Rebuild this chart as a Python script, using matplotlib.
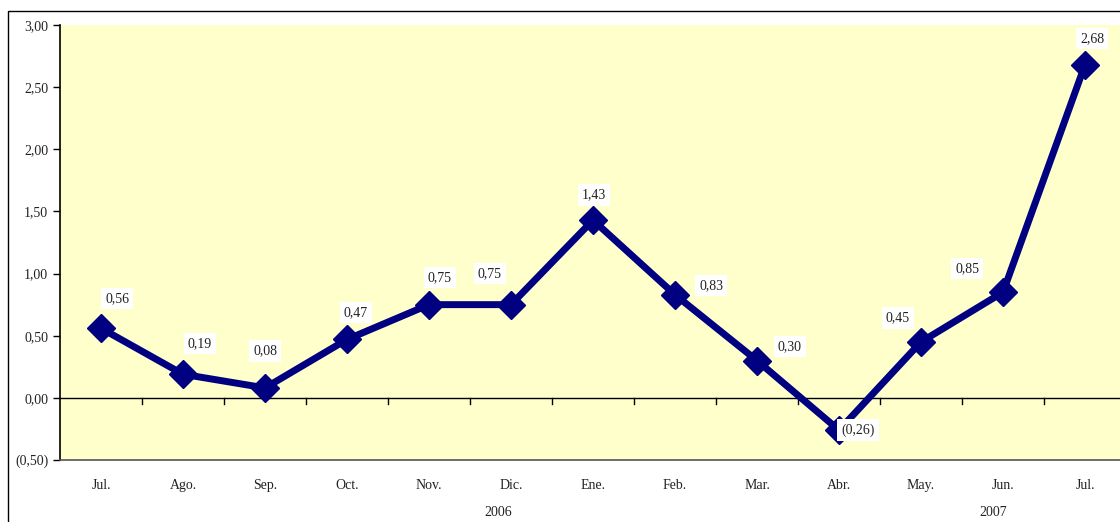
import numpy as np
import matplotlib
matplotlib.use("Agg")
import matplotlib.pyplot as plt
from matplotlib.patches import Rectangle
from matplotlib.transforms import ScaledTranslation

months = ["Jul.", "Ago.", "Sep.", "Oct.", "Nov.", "Dic.", "Ene.",
          "Feb.", "Mar.", "Abr.", "May.", "Jun.", "Jul."]
values = [0.56, 0.19, 0.08, 0.47, 0.75, 0.75, 1.43,
          0.83, 0.30, -0.26, 0.45, 0.85, 2.68]
years = ["2006", "2007"]
year_pos = [4.84, 10.88]

# label offsets in pixels (dx, dy) relative to each point
offsets = [(16, 30), (17, 31), (0, 37), (9, 27), (11, 27), (-21, 31), (1, 25),
           (36, 9), (33, 14), (19, 0), (-23, 24), (-36, 24), (7, 26)]


def fmt(v):
    s = "%.2f" % abs(v)
    s = s.replace(".", ",")
    return "(%s)" % s if v < 0 else s


plt.rcParams['font.family'] = ['Liberation Serif', 'DejaVu Serif']

fig = plt.figure(figsize=(11.2, 5.22), dpi=100)
fig.patch.set_facecolor("white")

# outer chart border
fig.add_artist(Rectangle((8 / 1120, -0.1), 1.2, 1 - 11 / 522 + 0.1,
                         transform=fig.transFigure, fill=False,
                         edgecolor="black", linewidth=1.0))

ax = fig.add_axes([60 / 1120, 1 - 460 / 522, 1066 / 1120, 435 / 522])
ax.set_facecolor("#FFFFCC")

x = np.arange(len(months))
ax.plot(x, values, color="#000080", linewidth=5, marker="D",
        markersize=14, markerfacecolor="#000080", markeredgecolor="#000080",
        zorder=3)

for xi, v, (dx, dy) in zip(x, values, offsets):
    ax.annotate(fmt(v), (xi, v), xytext=(dx, dy), textcoords="offset pixels",
                ha="center", va="center", fontsize=10, color="#222222",
                bbox=dict(boxstyle="square,pad=0.3", facecolor="white",
                          edgecolor="none"), zorder=4)

ax.set_xlim(-0.5, 12.5)
ax.set_ylim(-0.5, 3.0)
ax.axhline(0, color="black", linewidth=1.0, zorder=2)

yt = np.arange(-0.5, 3.01, 0.5)
ax.set_yticks(yt)
ax.set_yticklabels([fmt(v) for v in yt], fontsize=10, color="#222222")
ax.tick_params(axis="y", direction="out", length=5, width=1)

ax.set_xticks(x)
ax.set_xticklabels(months, fontsize=10, color="#222222")
ax.tick_params(axis="x", length=0, pad=14)

# category boundary ticks on the zero line
for b in np.arange(0.5, 12.5, 1.0):
    ax.plot([b, b], [0, -0.05], color="black", linewidth=1, zorder=2)

for s in ["top", "right"]:
    ax.spines[s].set_visible(False)
ax.spines["left"].set_linewidth(1.2)
ax.spines["bottom"].set_linewidth(1.2)
ax.spines["bottom"].set_color("#555555")

# year labels below the month labels
shift = ax.transData + ScaledTranslation(0, -0.46, fig.dpi_scale_trans)
for yr, xp in zip(years, year_pos):
    ax.text(xp, -0.5, yr, transform=shift, ha="center", va="top",
            fontsize=10, color="#222222")

fig.savefig("out.png", dpi=100)
